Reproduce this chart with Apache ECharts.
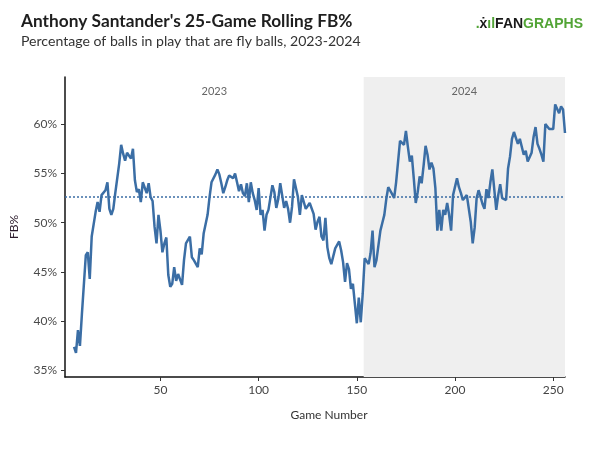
<!DOCTYPE html>
<html>
<head>
<meta charset="utf-8">
<script src="https://cdn.jsdelivr.net/npm/echarts@6/dist/echarts.min.js"></script>
<style>
  html, body { margin: 0; padding: 0; background: #fff; }
  #fbChart { width: 600px; height: 449px; }
</style>
</head>
<body>
<div id="fbChart"></div>
<script>
// game numbers and 25-game rolling FB%
const games = [6,7,8,9,10,11,12,13,14,15,16,17,18,19,20,21,22,23,24,25,26,27,28,29,30,
  31,32,33,34,35,36,37,38,39,40,41,42,43,44,45,46,47,48,49,50,51,52,53,54,55,56,57,58,59,60,
  61,62,63,64,65,66,67,68,69,70,71,72,74,75,76,77,78,79,80,81,82,83,84,85,86,87,88,89,90,
  91,92,93,94,95,96,97,98,99,100,101,102,103,104,105,106,107,108,109,110,111,112,113,114,115,
  116,117,118,119,120,121,122,123,124,125,126,127,128,129,130,131,132,133,134,135,136,137,138,
  139,140,141,142,143,144,145,146,147,148,149,150,151,152,153,154,155,156,157,158,159,160,161,
  162,163,164,165,166,167,168,169,170,171,172,173,174,175,176,177,178,179,180,181,182,183,184,
  185,186,187,188,189,190,191,192,193,194,195,196,197,198,199,200,201,202,203,204,205,206,207,
  208,209,210,211,212,213,214,215,216,217,218,219,220,221,222,223,224,225,226,227,228,229,230,
  231,232,233,234,235,236,237,238,239,240,241,242,243,244,245,246,247,248,249,250,251,252,253,
  254,255,256];
const fbPct = [37.4,36.8,39.1,37.5,40.7,40.8,46.7,47.0,44.3,48.6,48.7,51.1,52.1,51.1,52.8,
  52.7,53.3,54.1,51.4,50.8,51.4,53.0,53.2,56.0,57.9,57.0,56.3,57.1,57.0,56.5,57.5,54.3,53.1,
  53.4,52.1,54.1,54.2,53.0,54.0,52.6,52.2,49.6,47.9,50.8,49.2,47.0,47.9,48.5,44.7,43.5,43.8,
  45.5,44.1,44.8,44.9,43.7,46.2,47.9,48.0,48.6,46.5,46.2,46.0,45.5,47.4,46.8,48.9,50.8,52.6,
  54.1,54.2,54.9,55.4,54.9,54.0,53.0,53.6,54.3,54.8,55.0,54.5,55.0,54.1,53.2,53.9,53.0,52.7,
  54.0,52.1,54.1,53.0,52.3,51.3,53.5,50.8,51.3,49.2,50.8,51.3,51.5,53.8,53.1,51.5,52.4,54.0,
  54.0,51.5,52.2,51.4,50.0,51.6,54.4,54.3,52.6,50.8,52.8,52.1,51.4,51.4,52.0,51.8,50.9,49.3,
  50.1,50.6,48.6,48.2,50.5,47.5,46.4,45.8,45.7,47.4,47.5,48.1,47.2,46.0,44.0,45.9,45.3,43.3,
  43.8,41.8,39.8,42.4,39.9,42.8,46.4,46.5,45.8,46.9,49.2,45.5,46.2,46.2,49.2,50.0,50.8,52.4,
  53.6,53.6,52.9,52.5,54.1,56.2,58.3,58.5,57.9,59.3,57.7,56.2,56.8,54.5,52.0,53.1,54.7,54.0,
  55.8,57.8,56.9,55.4,56.1,55.5,53.5,49.2,51.3,49.2,51.3,50.8,52.0,50.8,49.2,52.8,53.0,54.5,
  53.6,53.0,52.3,52.3,52.8,52.6,50.1,47.9,49.5,52.5,53.3,53.2,51.9,51.4,53.4,52.5,54.1,55.4,
  55.3,51.3,52.8,53.9,52.5,52.5,52.3,55.5,56.7,58.5,59.2,59.2,58.0,58.5,58.5,56.9,57.3,56.2,
  56.2,57.1,58.7,59.7,58.0,57.5,56.9,56.2,60.0,60.0,59.5,59.6,59.5,62.0,61.9,61.1,61.8,61.5,
  59.1];

const avgFb = 52.6;                 // dotted reference line
const seasonBreak = 153.5;          // where 2024 starts
const xTicks = [50, 100, 150, 200, 250];
const yTicks = [35, 40, 45, 50, 55, 60];

const lineData = games.map((g, i) => [g, fbPct[i]]);
const lineColor = '#3b6ea5';
const font = 'Lato';

let chart = echarts.init(document.getElementById('fbChart'));

let option = {
    animation: false,
    textStyle: { fontFamily: font },
    title: {
        text: "Anthony Santander's 25-Game Rolling FB%",
        subtext: 'Percentage of balls in play that are fly balls, 2023-2024',
        left: 16,
        top: 8,
        itemGap: 4,
        textStyle: { fontSize: 17.3, fontWeight: 'bold', color: '#1e1e1e', fontFamily: font },
        subtextStyle: { fontSize: 14.1, color: '#333', fontFamily: font }
    },
    graphic: [
        {
            type: 'text',
            right: 17,
            top: 17,
            style: {
                text: '{g|.}{k|ẋ}{g|ıl}{k|FAN}{g|GRAPHS}',
                rich: {
                    g: { fill: '#52a436', fontSize: 14, fontWeight: 'bold', fontFamily: 'Liberation Sans' },
                    k: { fill: '#1a1a1a', fontSize: 14, fontWeight: 'bold', fontFamily: 'Liberation Sans' }
                }
            }
        }
    ],
    grid: {
        left: 61,
        right: 35,
        top: 77,
        bottom: 72
    },
    xAxis: {
        type: 'value',
        min: 1.4,
        max: 256,
        name: 'Game Number',
        nameLocation: 'middle',
        nameGap: 32,
        nameTextStyle: { fontSize: 12, color: '#333', padding: [0, 0, 0, 28] },
        axisLine: { lineStyle: { color: '#111', width: 1.5 } },
        axisTick: { show: true, length: 4, customValues: xTicks, lineStyle: { color: '#333' } },
        axisLabel: { customValues: xTicks, fontSize: 12, color: '#444', margin: 7 },
        splitLine: { show: false }
    },
    yAxis: {
        type: 'value',
        min: 34.35,
        max: 64.78,
        name: 'FB%',
        nameLocation: 'middle',
        nameGap: 45,
        nameTextStyle: { fontSize: 12, color: '#2a1a2a' },
        axisLine: { show: true, lineStyle: { color: '#111', width: 1.5 } },
        axisTick: { show: true, length: 4, customValues: yTicks, lineStyle: { color: '#333' } },
        axisLabel: {
            customValues: yTicks,
            fontSize: 12,
            color: '#4a4a4a',
            margin: 8,
            formatter: v => v + '%'
        },
        splitLine: { show: false }
    },
    series: [
        {
            type: 'line',
            data: lineData,
            showSymbol: false,
            lineStyle: { color: lineColor, width: 2.5 },
            z: 5,
            markArea: {
                silent: true,
                label: { show: true, position: 'insideTop', distance: 9, fontSize: 11, color: '#666' },
                data: [
                    [{ name: '2023', xAxis: 1.4, itemStyle: { color: 'rgba(0,0,0,0)' } }, { xAxis: seasonBreak }],
                    [{ name: '2024', xAxis: seasonBreak, itemStyle: { color: '#efefef' } }, { xAxis: 256 }]
                ]
            },
            markLine: {
                silent: true,
                symbol: 'none',
                label: { show: false },
                lineStyle: { color: lineColor, type: [2, 2], width: 1.5 },
                data: [{ yAxis: avgFb }]
            }
        }
    ]
};

chart.setOption(option);
</script>
</body>
</html>
